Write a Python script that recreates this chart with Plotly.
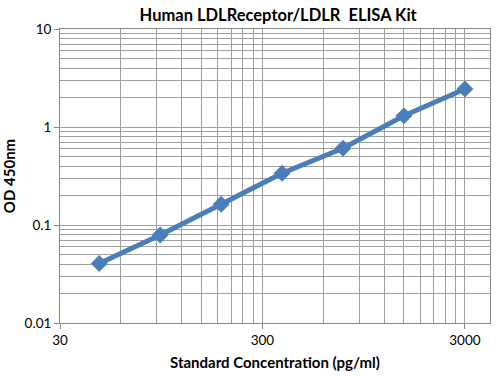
import numpy as np
import plotly.graph_objects as go

title = "Human LDLReceptor/LDLR  ELISA Kit"
x_title = "Standard Concentration (pg/ml)"
y_title = "OD 450nm"

concentration = [46.875, 93.75, 187.5, 375, 750, 1500, 3000]
od450 = [0.0405, 0.079, 0.163, 0.337, 0.607, 1.30, 2.44]

x_ticks = [30, 300, 3000]
x_tick_labels = ["30", "300", "3000"]
y_ticks = [0.01, 0.1, 1, 10]
y_tick_labels = ["0.01", "0.1", "1", "10"]

x_minor = [30 * 10**d * k for d in range(3) for k in range(2, 10)]
y_minor = [10.0**d * k for d in range(-2, 1) for k in range(2, 10)]

blue = "#4A7EBB"
grid = "#A0A0A0"
axis = "#868686"
font = "Lato, Calibri, sans-serif"

fig = go.Figure()
fig.add_trace(go.Scatter(
    x=concentration, y=od450, mode="lines+markers",
    line=dict(color=blue, width=5),
    marker=dict(symbol="diamond", size=13, color=blue),
    showlegend=False,
))

fig.update_layout(
    width=503, height=376,
    margin=dict(l=60, r=13, t=29, b=53, autoexpand=False),
    paper_bgcolor="white", plot_bgcolor="white",
    title=dict(text=title, x=0.553, xanchor="center", y=0.96, yanchor="middle",
               font=dict(family=font, size=16.5, color="#000000", weight="bold")),
    font=dict(family=font, size=13, color="#000000"),
)
fig.update_xaxes(
    type="log", range=[np.log10(30), np.log10(3990)],
    tickvals=x_ticks, ticktext=x_tick_labels,
    showgrid=True, gridcolor=grid, gridwidth=1,
    minor=dict(tickvals=x_minor, showgrid=True, gridcolor=grid, gridwidth=1, ticks=""),
    showline=True, linecolor=axis, linewidth=1, mirror=True,
    ticks="outside", ticklen=5, tickcolor=axis,
    tickfont=dict(family=font, size=13.5, color="#000000"),
    automargin=False,
    title=dict(text=x_title, standoff=10,
               font=dict(family=font, size=15, color="#000000", weight="bold")),
    zeroline=False,
)
fig.update_yaxes(
    type="log", range=[-2, 1],
    tickvals=y_ticks, ticktext=y_tick_labels,
    showgrid=True, gridcolor=grid, gridwidth=1,
    minor=dict(tickvals=y_minor, showgrid=True, gridcolor=grid, gridwidth=1, ticks=""),
    showline=True, linecolor=axis, linewidth=1, mirror=True,
    ticks="outside", ticklen=5, tickcolor=axis,
    tickfont=dict(family=font, size=13.5, color="#000000"),
    automargin=False,
    title=dict(text=y_title, standoff=10,
               font=dict(family=font, size=15, color="#000000", weight="bold")),
    zeroline=False,
)

fig.write_html(
    "out.html",
    config={"displayModeBar": False},
    post_script="document.body.style.margin='0';document.body.style.overflow='hidden';",
)
